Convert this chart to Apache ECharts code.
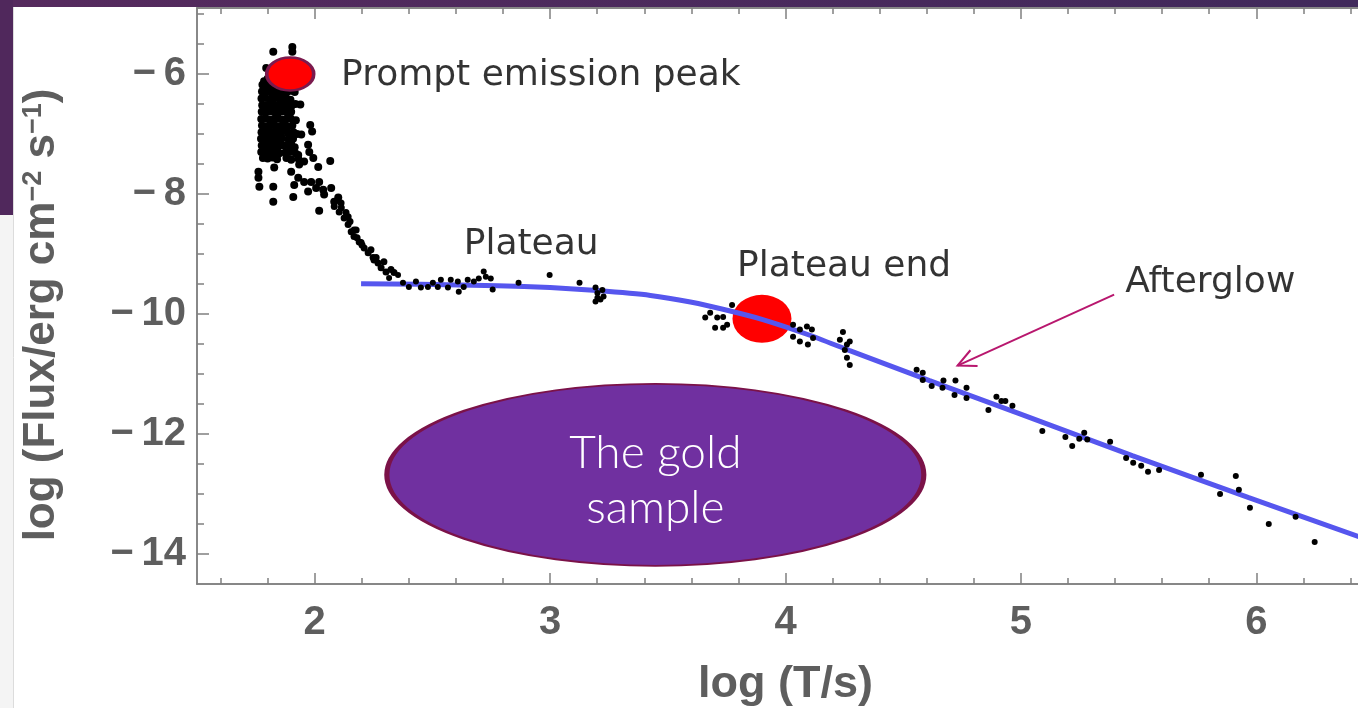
<!DOCTYPE html>
<html><head><meta charset="utf-8">
<script src="https://cdn.jsdelivr.net/npm/echarts@6/dist/echarts.min.js"></script>
<style>html,body{margin:0;padding:0;background:#fff;}#c{width:1358px;height:708px;}</style>
</head><body><div id="c"></div>
<script>
// ---------- axis ticks ----------
const xMajorTicks = [2, 3, 4, 5, 6];
const xMinorTicks = [1.6,1.8,2.2,2.4,2.6,2.8,3.2,3.4,3.6,3.8,4.2,4.4,4.6,4.8,5.2,5.4,5.6,5.8,6.2,6.4];
const yMajorTicks = [-14, -12, -10, -8, -6];
const yMinorTicks = [-13.5,-13,-12.5,-11.5,-11,-10.5,-9.5,-9,-8.5,-7.5,-7,-6.5,-5.5,-5];

// ---------- data (log T, log Flux) ----------
const promptPoints = [
 [1.824,-5.63],[1.905,-5.55],[1.905,-5.63],[1.794,-5.90],[1.785,-6.12],[1.80,-6.08],[1.815,-6.15],[1.83,-6.10],
 [1.778,-6.18],[1.795,-6.18],[1.812,-6.19],[1.83,-6.17],[1.848,-6.18],[1.866,-6.20],[1.884,-6.18],[1.90,-6.17],
 [1.776,-6.29],[1.793,-6.30],[1.81,-6.28],[1.828,-6.29],[1.846,-6.31],[1.864,-6.29],[1.882,-6.30],[1.899,-6.28],[1.915,-6.30],
 [1.774,-6.41],[1.79,-6.40],[1.808,-6.42],[1.826,-6.41],[1.844,-6.40],[1.862,-6.42],[1.88,-6.41],[1.897,-6.43],
 [1.777,-6.52],[1.794,-6.53],[1.812,-6.51],[1.83,-6.52],[1.848,-6.53],[1.866,-6.52],[1.885,-6.51],[1.902,-6.53],[1.918,-6.50],
 [1.775,-6.63],[1.792,-6.64],[1.81,-6.62],[1.828,-6.63],[1.846,-6.64],[1.864,-6.62],[1.883,-6.64],[1.90,-6.63],
 [1.773,-6.75],[1.79,-6.74],[1.808,-6.76],[1.826,-6.75],[1.844,-6.74],[1.862,-6.76],[1.88,-6.75],[1.898,-6.74],[1.92,-6.77],
 [1.776,-6.86],[1.794,-6.87],[1.812,-6.85],[1.83,-6.86],[1.848,-6.87],[1.866,-6.85],[1.886,-6.88],[1.905,-6.86],
 [1.774,-6.97],[1.791,-6.98],[1.809,-6.96],[1.827,-6.97],[1.845,-6.98],[1.863,-6.96],[1.888,-6.99],[1.91,-6.97],[1.925,-7.00],
 [1.772,-7.08],[1.79,-7.09],[1.808,-7.07],[1.826,-7.08],[1.844,-7.09],[1.862,-7.07],[1.89,-7.10],[1.908,-7.08],
 [1.775,-7.19],[1.793,-7.20],[1.81,-7.18],[1.828,-7.19],[1.846,-7.21],[1.87,-7.19],[1.892,-7.20],[1.915,-7.22],
 [1.773,-7.30],[1.79,-7.31],[1.81,-7.29],[1.83,-7.30],[1.85,-7.32],[1.875,-7.31],[1.895,-7.30],[1.92,-7.33],
 [1.78,-7.40],[1.80,-7.41],[1.82,-7.39],[1.84,-7.42],[1.88,-7.40],[1.90,-7.43],[1.93,-7.41],
 [1.785,-6.24],[1.82,-6.35],[1.855,-6.46],[1.80,-6.58],[1.838,-6.69],[1.872,-6.81],[1.785,-6.92],[1.818,-7.03],
 [1.852,-7.14],[1.80,-7.25],[1.84,-7.36],[1.87,-6.35],[1.89,-6.58],[1.875,-6.92],[1.90,-7.15],
 [1.939,-6.51],[1.981,-6.85],[1.989,-6.96],[1.977,-7.30],[2.066,-7.45],[1.943,-7.01],[1.972,-7.18],[1.930,-7.35],
 [1.955,-7.46],[1.994,-7.40],[2.015,-7.55],[1.934,-7.51],[1.761,-7.63],[1.761,-7.73],[1.765,-7.88],[1.824,-7.88],
 [1.824,-8.13],[1.909,-8.05],[1.828,-7.56],[1.900,-7.63],[1.930,-7.73],[1.955,-7.80],[1.985,-7.80],[2.019,-7.80],
 [2.036,-7.93],[2.070,-7.90],[2.019,-8.28],[2.100,-8.06],[1.913,-7.85],[1.972,-7.96],[2.006,-7.90],[2.04,-8.01],[2.083,-8.13]
];
const decayPoints = [
 [2.083,-8.21],[2.104,-8.30],[2.125,-8.40],[2.142,-8.51],[2.155,-8.63],[2.167,-8.71],[2.189,-8.80],[2.210,-8.90],
 [2.227,-8.98],[2.248,-9.06],[2.269,-9.15],[2.282,-9.23],[2.303,-9.30],[2.112,-8.15],[2.133,-8.31],[2.150,-8.46],
 [2.176,-8.60],[2.180,-8.73],[2.201,-8.85],[2.239,-8.93],[2.261,-9.06],[2.294,-9.13],[2.324,-9.26],[2.113,-8.23],
 [2.142,-8.38],[2.167,-8.60],[2.197,-8.81],[2.252,-9.10],[2.337,-9.31]
];
const plateauPoints = [
 [2.316,-9.40],[2.354,-9.35],[2.375,-9.48],[2.400,-9.55],[2.430,-9.46],[2.451,-9.56],[2.481,-9.55],[2.502,-9.48],
 [2.523,-9.55],[2.536,-9.43],[2.566,-9.56],[2.578,-9.43],[2.608,-9.46],[2.612,-9.63],[2.633,-9.55],[2.650,-9.43],
 [2.676,-9.46],[2.697,-9.41],[2.718,-9.29],[2.727,-9.38],[2.748,-9.41],[2.756,-9.59],[2.866,-9.48],[2.998,-9.35],
 [3.125,-9.48],[3.193,-9.56],[3.201,-9.65],[3.214,-9.76],[3.201,-9.73],[3.222,-9.60],[3.227,-9.71],[3.193,-9.79]
];
const plateauEndPoints = [
 [3.680,-9.98],[3.710,-10.06],[3.735,-10.05],[3.701,-10.23],[3.735,-10.23],[3.752,-10.18],[3.773,-9.85],[3.659,-10.06],
 [4.032,-10.18],[4.061,-10.26],[4.091,-10.21],[4.112,-10.26],[4.032,-10.38],[4.061,-10.46],[4.095,-10.51],[4.117,-10.40],
 [4.231,-10.43],[4.244,-10.30],[4.261,-10.51],[4.273,-10.46],[4.252,-10.60],[4.261,-10.73],[4.273,-10.85]
];
const afterglowPoints = [
 [4.557,-10.93],[4.583,-10.98],[4.583,-11.10],[4.621,-11.20],[4.667,-11.23],[4.671,-11.11],[4.718,-11.35],[4.722,-11.11],
 [4.769,-11.23],[4.769,-11.40],[4.862,-11.60],[4.896,-11.38],[4.917,-11.45],[4.934,-11.45],[4.964,-11.53],[5.091,-11.95],
 [5.189,-12.05],[5.218,-12.20],[5.248,-12.08],[5.269,-11.98],[5.282,-12.09],[5.379,-12.13],[5.447,-12.40],[5.477,-12.48],
 [5.511,-12.53],[5.540,-12.63],[5.587,-12.60],[5.765,-12.68],[5.846,-13.00],[5.913,-12.70],[5.926,-12.93],[5.973,-13.23],
 [6.053,-13.50],[6.167,-13.38],[6.248,-13.80]
];
const fitLine = [
 [2.197,-9.495],[2.45,-9.505],[2.778,-9.53],[3.0,-9.56],[3.2,-9.61],[3.426,-9.69],[3.596,-9.80],[3.765,-9.95],[3.90,-10.09],
 [4.10,-10.35],[4.273,-10.61],[4.612,-11.11],[4.993,-11.66],[5.473,-12.36],[5.968,-13.06],[6.45,-13.73]
];
const promptPeak = [[1.896, -6.0]];
const plateauEnd = [[3.90, -10.08]];
const labels = ['Prompt emission peak', 'Plateau', 'Plateau end', 'Afterglow', 'The gold\nsample'];
const xTitle = 'log (T/s)';

// ---------- chart ----------
const chart = echarts.init(document.getElementById('c'), null, {renderer: 'canvas'});
const axisColor = '#808080';
const tickLabel = {color: '#5e5e5e', fontFamily: 'Liberation Sans, Arial, sans-serif', fontWeight: 'bold', fontSize: 40};
const minus = v => (v < 0 ? '\u2212\u2009' + Math.abs(v) : String(v));

function xAx(pos, ticks, len, withLabel) {
  return {
    type: 'value', min: 1.5, max: 6.5, position: pos,
    axisLine: {show: true, lineStyle: {color: axisColor, width: 1.5}},
    axisTick: {show: true, inside: true, length: len, customValues: ticks, lineStyle: {color: axisColor, width: 1.5}},
    axisLabel: withLabel ? Object.assign({show: true, customValues: ticks, margin: 19}, tickLabel) : {show: false},
    splitLine: {show: false},
    name: withLabel ? xTitle : '', nameLocation: 'middle', nameGap: 78,
    nameTextStyle: {color: '#5e5e5e', fontFamily: 'Liberation Sans, Arial, sans-serif', fontWeight: 'bold', fontSize: 45}
  };
}
function yAx(ticks, len, withLabel) {
  return {
    type: 'value', min: -14.5, max: -4.9, position: 'left',
    axisLine: {show: true, lineStyle: {color: axisColor, width: 1.5}},
    axisTick: {show: true, inside: true, length: len, customValues: ticks, lineStyle: {color: axisColor, width: 1.5}},
    axisLabel: withLabel ? Object.assign({show: true, customValues: ticks, margin: 11, formatter: minus}, tickLabel) : {show: false},
    splitLine: {show: false}
  };
}
const dot = {color: '#000', opacity: 1};

const option = {
  animation: false,
  backgroundColor: '#ffffff',
  grid: {left: 197, top: 8, width: 1177, height: 576, containLabel: false, outerBoundsMode: 'none'},
  xAxis: [xAx('bottom', xMajorTicks, 11, true), xAx('bottom', xMinorTicks, 6, false),
          xAx('top', xMajorTicks, 11, false), xAx('top', xMinorTicks, 6, false)],
  yAxis: [yAx(yMajorTicks, 12, true), yAx(yMinorTicks, 7, false)],
  graphic: [
    {type: 'rect', z: -10, shape: {x: 0, y: 0, width: 1358, height: 7},
     style: {fill: new echarts.graphic.LinearGradient(0, 0, 1, 0, [{offset: 0, color: '#562a5e'}, {offset: 1, color: '#40295b'}])}},
    {type: 'rect', z: -10, shape: {x: 0, y: 0, width: 13, height: 215}, style: {fill: '#50285c'}},
    {type: 'rect', z: -10, shape: {x: 0, y: 215, width: 13, height: 493}, style: {fill: '#f4f4f4'}},
    {type: 'line', z: -10, shape: {x1: 13.5, y1: 7, x2: 13.5, y2: 708}, style: {stroke: '#dcdcdc', lineWidth: 1}},
    {type: 'text', x: 42, y: 315, rotation: Math.PI / 2,
     style: {
       text: '{n|log (Flux/erg cm}{s|\u22122}{n| s}{s|\u22121}{n|)}',
       align: 'center', verticalAlign: 'middle',
       rich: {
         n: {fontSize: 44, fontWeight: 'bold', fontFamily: 'Liberation Sans, Arial, sans-serif', fill: '#5e5e5e', color: '#5e5e5e'},
         s: {fontSize: 27, fontWeight: 'bold', fontFamily: 'Liberation Sans, Arial, sans-serif', fill: '#5e5e5e', color: '#5e5e5e', verticalAlign: 'top'}
       }
     }}
  ],
  series: [
    {type: 'scatter', name: 'plateau end', data: plateauEnd, symbol: 'circle', symbolSize: [59, 48],
     itemStyle: {color: '#ff0000', opacity: 1}, z: 2, silent: true},
    {type: 'line', name: 'fit', data: fitLine, smooth: 0.2, showSymbol: false, symbol: 'none',
     lineStyle: {color: '#5656ee', width: 5}, z: 3, silent: true},
    {type: 'scatter', name: 'prompt', data: promptPoints, symbolSize: 8, itemStyle: dot, z: 4, silent: true},
    {type: 'scatter', name: 'decay', data: decayPoints, symbolSize: 7, itemStyle: dot, z: 4, silent: true},
    {type: 'scatter', name: 'plateau', data: plateauPoints, symbolSize: 6, itemStyle: dot, z: 4, silent: true},
    {type: 'scatter', name: 'plateau end pts', data: plateauEndPoints, symbolSize: 6, itemStyle: dot, z: 4, silent: true},
    {type: 'scatter', name: 'afterglow', data: afterglowPoints, symbolSize: 6, itemStyle: dot, z: 4, silent: true},
    {type: 'scatter', name: 'prompt peak', data: promptPeak, symbolSize: [47, 33],
     itemStyle: {color: '#ff0000', borderColor: '#7b1a4e', borderWidth: 3, opacity: 1}, z: 5, silent: true},
    {type: 'scatter', name: 'gold', data: [[3.447, -12.68]], symbolSize: [537, 182],
     itemStyle: {color: '#7030a0', borderColor: '#7b1248', borderWidth: 3, opacity: 1}, z: 5, silent: true,
     label: {show: true, position: 'inside', formatter: labels[4], color: '#ffffff', fontSize: 46, lineHeight: 55,
             fontFamily: 'Lato, Open Sans, sans-serif', fontWeight: 300, offset: [0, 6]}},
    {type: 'scatter', name: 'texts', symbolSize: 0, z: 6, silent: true,
     label: {show: true, position: 'right', distance: 0, fontFamily: 'DejaVu Sans, sans-serif', fontSize: 36, color: '#000000'},
     data: [
       {value: [2.112, -6.02], label: {formatter: labels[0]}},
       {value: [2.633, -8.84], label: {formatter: labels[1]}},
       {value: [3.794, -9.21], label: {formatter: labels[2]}},
       {value: [5.443, -9.48], label: {formatter: labels[3]}}
     ]},
    {type: 'custom', name: 'arrow', z: 6, silent: true, clip: false,
     data: [[5.396, -9.678, 4.731, -10.86]],
     renderItem: function (params, api) {
       const a = api.coord([api.value(0), api.value(1)]);
       const b = api.coord([api.value(2), api.value(3)]);
       const ang = Math.atan2(a[1] - b[1], a[0] - b[0]);
       const L = 20, s = 0.45;
       const p1 = [b[0] + L * Math.cos(ang + s), b[1] + L * Math.sin(ang + s)];
       const p2 = [b[0] + L * Math.cos(ang - s), b[1] + L * Math.sin(ang - s)];
       return {type: 'group', children: [
         {type: 'line', shape: {x1: a[0], y1: a[1], x2: b[0], y2: b[1]}, style: {stroke: '#b8176e', lineWidth: 2}},
         {type: 'polyline', shape: {points: [p1, b, p2]}, style: {stroke: '#b8176e', lineWidth: 2, fill: null}}
       ]};
     }}
  ]
};
chart.setOption(option);
</script>
</body></html>
